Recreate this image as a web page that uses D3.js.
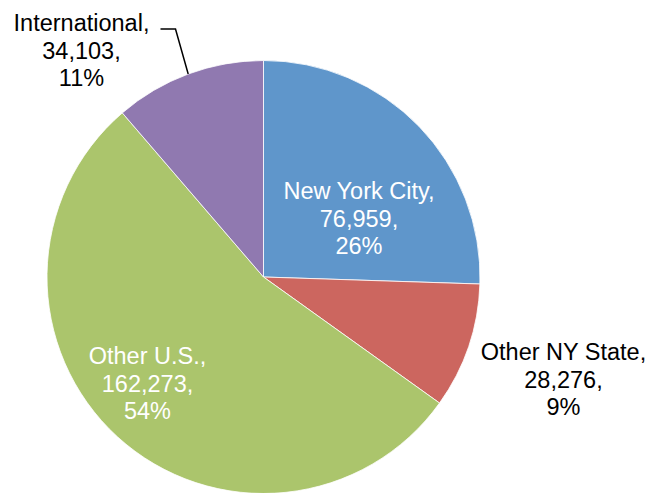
<!DOCTYPE html>
<html><head><meta charset="utf-8">
<script src="https://cdn.jsdelivr.net/npm/d3@7"></script>
<style>html,body{margin:0;padding:0;background:#fff;}svg{display:block;}</style>
</head><body>
<svg id="chart" width="650" height="493"></svg>
<script>
const categories = ["New York City", "Other NY State", "Other U.S.", "International"];
const values = [76959, 28276, 162273, 34103];
const valueLabels = ["76,959", "28,276", "162,273", "34,103"];
const percentLabels = ["26%", "9%", "54%", "11%"];
const colors = ["#5F96CB", "#CC665F", "#ABC56C", "#9079B0"];

const W = 650, H = 493;
const cx = 263.5, cy = 277, R = 216.5;
const svg = d3.select("#chart");
const g = svg.append("g").attr("transform", `translate(${cx},${cy})`);

const data = categories.map((c, i) => ({ c, v: values[i], i }));
const pie = d3.pie().value(d => d.v).sort(null).startAngle(0).endAngle(2 * Math.PI);
const arc = d3.arc().innerRadius(0).outerRadius(R);
const arcs = pie(data);

g.selectAll("path.slice").data(arcs).enter().append("path")
  .attr("class", "slice")
  .attr("d", arc)
  .attr("fill", d => colors[d.data.i])
  .attr("stroke", "#ffffff")
  .attr("stroke-width", 0.8);

// label placement (offsets from pie center) and text colours
const labelPos = [
  { dx: 95.5, dy: -78, fill: "#ffffff" },
  { dx: 300, dy: 83, fill: "#000000" },
  { dx: -116, dy: 87, fill: "#ffffff" },
  { dx: -182, dy: -246, fill: "#000000" }
];
const lineH = 27.5;

arcs.forEach((a, k) => {
  const p = labelPos[k];
  const t = g.append("text")
    .attr("text-anchor", "middle")
    .attr("font-family", "'Liberation Sans', Arial, sans-serif")
    .attr("font-size", 23.5)
    .attr("fill", p.fill);
  const lines = [categories[k] + ",", valueLabels[k] + ",", percentLabels[k]];
  lines.forEach((ln, j) => {
    t.append("tspan").attr("x", p.dx).attr("y", p.dy + j * lineH).text(ln);
  });
});

// leader line for International
const intl = arcs[3];
const mid = (intl.startAngle + intl.endAngle) / 2;
const ex = Math.sin(mid) * R, ey = -Math.cos(mid) * R;
g.append("polyline")
  .attr("points", [[-103, -248], [-88, -248], [ex, ey]].map(p => p.join(",")).join(" "))
  .attr("fill", "none")
  .attr("stroke", "#000")
  .attr("stroke-width", 1.5);
</script>
</body></html>
